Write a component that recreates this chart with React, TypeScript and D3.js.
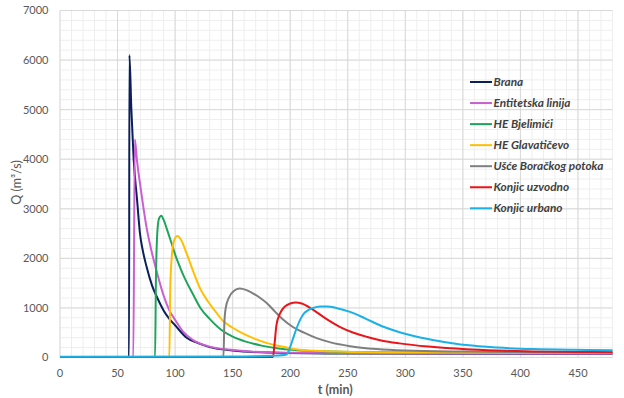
import React from "react";
import * as d3 from "d3";

// hydrographs: time (min) and discharge (m3/s)
const branaT = [0, 60, 60.3, 62, 64, 67, 69.5, 72, 75, 80, 85, 90, 95, 100, 110, 120, 130, 150, 180, 250, 480];
const branaQ = [10, 10, 6100, 5000, 4000, 3170, 2500, 2150, 1850, 1450, 1180, 950, 780, 650, 400, 290, 210, 140, 100, 80, 75];

const entitetskaT = [0, 63.7, 65, 67, 69.5, 72, 75, 80, 85, 90, 95, 100, 107, 115, 130, 150, 165, 200, 300, 480];
const entitetskaQ = [10, 10, 4400, 3950, 3510, 3100, 2650, 2100, 1650, 1250, 950, 760, 520, 360, 220, 150, 120, 95, 85, 80];

const bjelimiciT = [0, 82.6, 83.3, 84.5, 86, 88, 90, 93, 97, 100, 105, 110, 115, 122, 130, 140, 150, 160, 175, 190, 220, 260, 350, 480];
const bjelimiciQ = [10, 10, 1500, 2500, 2800, 2860, 2780, 2580, 2300, 2080, 1780, 1520, 1300, 1000, 780, 560, 420, 330, 240, 180, 130, 110, 95, 90];

const glavaticevoT = [0, 95, 95.8, 97, 99, 102, 105, 110, 116, 122, 128, 135, 142, 150, 160, 170, 180, 195, 210, 240, 300, 480];
const glavaticevoQ = [10, 10, 1400, 2000, 2350, 2450, 2380, 2100, 1720, 1380, 1150, 930, 730, 600, 470, 370, 290, 210, 150, 120, 100, 95];

const usceT = [0, 142, 142.8, 144, 147, 151, 156, 162, 168, 174, 180, 187, 194, 202, 212, 223, 235, 252, 275, 300, 350, 400, 480];
const usceQ = [10, 10, 700, 1000, 1220, 1340, 1390, 1360, 1290, 1200, 1090, 920, 760, 620, 500, 390, 305, 228, 170, 140, 120, 110, 105];

const uzvodnoT = [0, 185, 186.5, 188, 191, 195, 200, 205, 210, 220, 230, 243, 255, 267, 280, 295, 320, 353, 380, 411, 450, 480];
const uzvodnoQ = [10, 10, 300, 650, 880, 1020, 1090, 1110, 1090, 960, 800, 620, 500, 415, 340, 285, 220, 165, 140, 122, 112, 108];

const urbanoT = [0, 150, 190, 197, 199, 202, 205.7, 209, 212, 216, 220, 226, 232, 240, 252, 265, 281, 295, 310, 330, 353, 380, 411, 445, 480];
const urbanoQ = [15, 20, 40, 60, 150, 350, 600, 780, 890, 960, 1000, 1030, 1030, 1000, 920, 790, 620, 510, 420, 330, 250, 200, 170, 155, 148];

const seriesNames = ["Brana", "Entitetska linija", "HE Bjelimići", "HE Glavatičevo", "Ušće Boračkog potoka", "Konjic uzvodno", "Konjic urbano"];
const seriesColors = ["#0B1F5C", "#C95FD0", "#1FA55B", "#FFC000", "#7F7F7F", "#E8161B", "#1BB0E6"];
const seriesT = [branaT, entitetskaT, bjelimiciT, glavaticevoT, usceT, uzvodnoT, urbanoT];
const seriesQ = [branaQ, entitetskaQ, bjelimiciQ, glavaticevoQ, usceQ, uzvodnoQ, urbanoQ];

const xTicks = [0, 50, 100, 150, 200, 250, 300, 350, 400, 450];
const yTicks = [0, 1000, 2000, 3000, 4000, 5000, 6000, 7000];

const font = "Lato, 'Open Sans', sans-serif";

export default function App() {
  const left = 60, right = 612.5, top = 10.5, bottom = 357.5;
  const x = d3.scaleLinear().domain([0, 480]).range([left, right]);
  const y = d3.scaleLinear().domain([0, 7000]).range([bottom, top]);

  const minorX = d3.range(0, 481, 10);
  const minorY = d3.range(0, 7001, 200);

  const line = d3.line<[number, number]>()
    .x(d => x(d[0]))
    .y(d => y(d[1]))
    .curve(d3.curveMonotoneX);

  return (
    <div style={{ position: "absolute", left: 0, top: 0 }}>
      <svg width={624} height={398} style={{ display: "block", background: "#fff" }}>
        {/* minor grid */}
        {minorX.map(t => (
          <line key={"mx" + t} x1={x(t)} x2={x(t)} y1={top} y2={bottom} stroke="#EEEEEE" strokeWidth={1} />
        ))}
        {minorY.map(v => (
          <line key={"my" + v} x1={left} x2={right} y1={y(v)} y2={y(v)} stroke="#EEEEEE" strokeWidth={1} />
        ))}
        {/* major grid */}
        {xTicks.map(t => (
          <line key={"gx" + t} x1={x(t)} x2={x(t)} y1={top} y2={bottom} stroke="#D9D9D9" strokeWidth={1} />
        ))}
        {yTicks.map(v => (
          <line key={"gy" + v} x1={left} x2={right} y1={y(v)} y2={y(v)} stroke="#D9D9D9" strokeWidth={1} />
        ))}

        {/* series */}
        {seriesNames.map((name, i) => {
          const pts: [number, number][] = seriesT[i].map((t, j) => [t, seriesQ[i][j]]);
          return (
            <path key={name} d={line(pts) || ""} fill="none" stroke={seriesColors[i]} strokeWidth={2} strokeLinejoin="round" />
          );
        })}

        {/* tick labels */}
        {xTicks.map(t => (
          <text key={"tx" + t} x={x(t)} y={376.5} textAnchor="middle" fontFamily={font} fontSize={11} fill="#595959">{t}</text>
        ))}
        {yTicks.map(v => (
          <text key={"ty" + v} x={48.5} y={y(v) + 3.9} textAnchor="end" fontFamily={font} fontSize={11} fill="#595959">{v}</text>
        ))}

        {/* axis titles */}
        <text x={(left + right) / 2 - 1} y={393.5} textAnchor="middle" fontFamily={font} fontSize={12.5} fontWeight="bold" fill="#595959">t (min)</text>
        <text transform={`translate(20.5,182.5) rotate(-90)`} textAnchor="middle" fontFamily={font} fontSize={12.5} fill="#595959">Q (m³/s)</text>

        {/* legend */}
        {seriesNames.map((name, i) => {
          const ly = 82 + i * 21.05;
          return (
            <g key={"lg" + name}>
              <line x1={470} x2={492} y1={ly} y2={ly} stroke={seriesColors[i]} strokeWidth={2} />
              <text x={493.5} y={ly + 4} fontFamily={font} fontSize={11.8} fontWeight="bold" fontStyle="italic" fill="#404040">{name}</text>
            </g>
          );
        })}
      </svg>
    </div>
  );
}
